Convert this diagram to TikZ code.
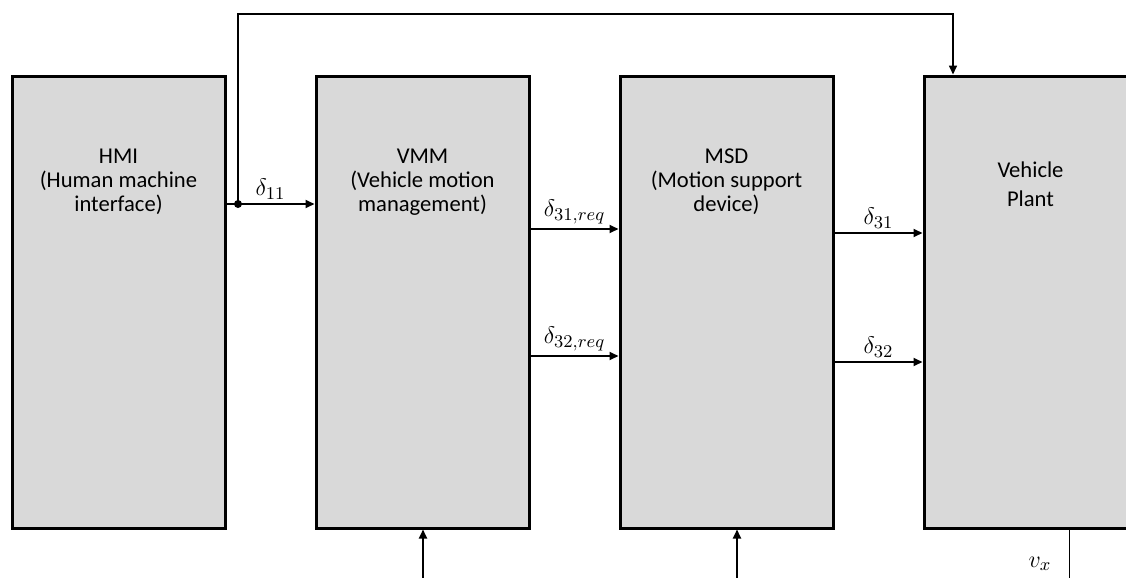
\documentclass[tikz,border=0pt]{standalone}
\usepackage{fontspec}
\setmainfont{Carlito}
\usetikzlibrary{arrows.meta, positioning}
\definecolor{boxgray}{HTML}{D9D9D9}

\begin{document}
\begin{tikzpicture}[x = 0.5pt, y = -0.5pt,
	block/.style = {draw, line width = 1.5pt, fill = boxgray, minimum width = 106.5pt, minimum height = 226pt, inner sep = 0pt},
	txt/.style = {align = center, font = \fontsize{11.3}{12}\selectfont},
	sig/.style = {line width = 1pt, -{Triangle[length = 4.5pt, width = 4pt]}},
	lbl/.style = {above, inner sep = 2pt, font = \fontsize{13}{15}\selectfont}]
	\useasboundingbox (0,0) rectangle (1126,578);
	\clip (0,0) rectangle (1126,578);

	% blocks
	\node[block] (hmi)   at (118.5,302) {};
	\node[block] (vmm)   at (422.5,302) {};
	\node[block] (msd)   at (726.5,302) {};
	\node[block] (plant) at (1030.5,302) {};

	\node[txt] (hmitxt)   at (118.5,182)  {HMI\\(Human machine\\interface)};
	\node[txt] (vmmtxt)   at (422.5,182)  {VMM\\(Vehicle motion\\management)};
	\node[txt] (msdtxt)   at (726.5,182)  {MSD\\(Motion support\\device)};
	\node[txt, font = \fontsize{11.3}{14.5}\selectfont] (planttxt) at (1030.5,184) {Vehicle\\Plant};

	% signals
	\coordinate (split) at (238,204);
	\coordinate (fb)    at (953,14);
	\fill (split) circle (2pt);
	\draw[sig] (hmi.east |- split) -- (vmm.west |- split) node[lbl, midway]{$\delta_{11}$};
	\draw[sig, line width = 0.8pt] (split) |- (fb) -- (fb |- plant.north);

	\draw[sig] (vmm.east |- 0,229) -- (msd.west |- 0,229) node[lbl, midway]{$\delta_{31,req}$};
	\draw[sig] (vmm.east |- 0,356) -- (msd.west |- 0,356) node[lbl, midway]{$\delta_{32,req}$};
	\draw[sig] (msd.east |- 0,233) -- (plant.west |- 0,233) node[lbl, midway]{$\delta_{31}$};
	\draw[sig] (msd.east |- 0,362) -- (plant.west |- 0,362) node[lbl, midway]{$\delta_{32}$};

	% inputs from below
	\coordinate (vmmin) at (423,578);
	\coordinate (msdin) at (737,578);
	\coordinate (vxout) at (1069,578);
	\draw[sig] (vmmin) -- (vmmin |- vmm.south);
	\draw[sig] (msdin) -- (msdin |- msd.south);
	\draw[line width = 0.5pt] (plant.south -| vxout) -- (vxout);
	\node[font = \fontsize{13}{15}\selectfont] (vx) at (1040,564) {$v_x$};
\end{tikzpicture}
\end{document}
